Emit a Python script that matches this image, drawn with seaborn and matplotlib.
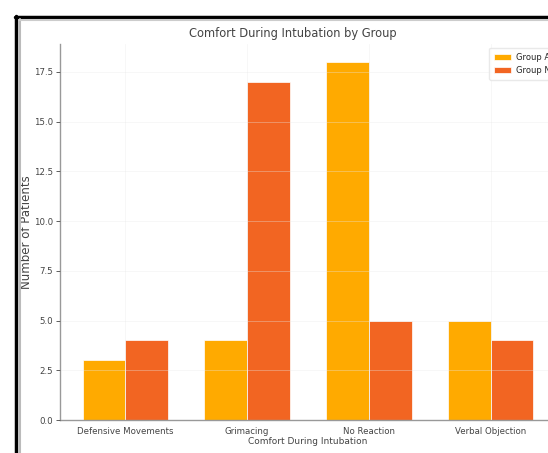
import pandas as pd
import seaborn as sns
import matplotlib.pyplot as plt
from matplotlib.lines import Line2D

categories = ["Defensive Movements", "Grimacing", "No Reaction", "Verbal Objection"]
group_a = [3, 4, 18, 5]
group_n = [4, 17, 5, 4]
groups = ["Group A", "Group N"]
colors = ["#FFAA00", "#F26522"]

df = pd.DataFrame({
    "Comfort": categories * 2,
    "Patients": group_a + group_n,
    "Group": [groups[0]] * 4 + [groups[1]] * 4,
})

sns.set_style("whitegrid")
plt.rcParams["font.family"] = ["DejaVu Sans"]

fig = plt.figure(figsize=(5.48, 4.53), dpi=100)
ax = fig.add_axes([0.1095, 0.0728, 0.905, 0.830])

sns.barplot(data=df, x="Comfort", y="Patients", hue="Group", palette=colors,
            saturation=1, width=0.7, gap=0, ax=ax, edgecolor="white", linewidth=0.5)
ax.set_xlim(-0.535, 3.535)
ax.set_ylim(0, 18.9)
ax.set_yticks([0, 2.5, 5, 7.5, 10, 12.5, 15, 17.5])
ax.set_yticklabels(["0.0", "2.5", "5.0", "7.5", "10.0", "12.5", "15.0", "17.5"])
ax.set_axisbelow(False)
ax.grid(True, color="#e8e8e8", linewidth=0.7, alpha=0.35)

ax.set_title("Comfort During Intubation by Group", fontsize=8.3, color="#444444",
             pad=5, x=0.47)
ax.set_xlabel("Comfort During Intubation", fontsize=6.5, color="#444444", labelpad=1)
ax.set_ylabel("Number of Patients", fontsize=8.5, color="#444444", labelpad=1)
ax.tick_params(axis="both", labelsize=6.2, colors="#444444", length=3, width=0.6,
               left=True, bottom=False, pad=2)
for s in ["left", "bottom"]:
    ax.spines[s].set_color("#999999")
    ax.spines[s].set_linewidth(1)
ax.spines["top"].set_visible(False)
ax.spines["right"].set_visible(False)

leg = ax.legend(loc="upper left", bbox_to_anchor=(0.866, 0.99), borderaxespad=0,
                fontsize=6, frameon=True, title=None, handlelength=2,
                handletextpad=0.6, borderpad=0.6)
leg.get_frame().set_edgecolor("#e4e4e4")

# screenshot border
fig.add_artist(Line2D([0.030, 0.030], [0, 0.965], color="black", linewidth=2.5))
fig.add_artist(Line2D([0.028, 1], [0.963, 0.963], color="black", linewidth=2.5))
fig.add_artist(Line2D([0.036, 0.036], [0, 0.958], color="#bbbbbb", linewidth=1.5))
fig.add_artist(Line2D([0.034, 1], [0.956, 0.956], color="#cccccc", linewidth=1.5))

fig.savefig("out.png", dpi=100)
